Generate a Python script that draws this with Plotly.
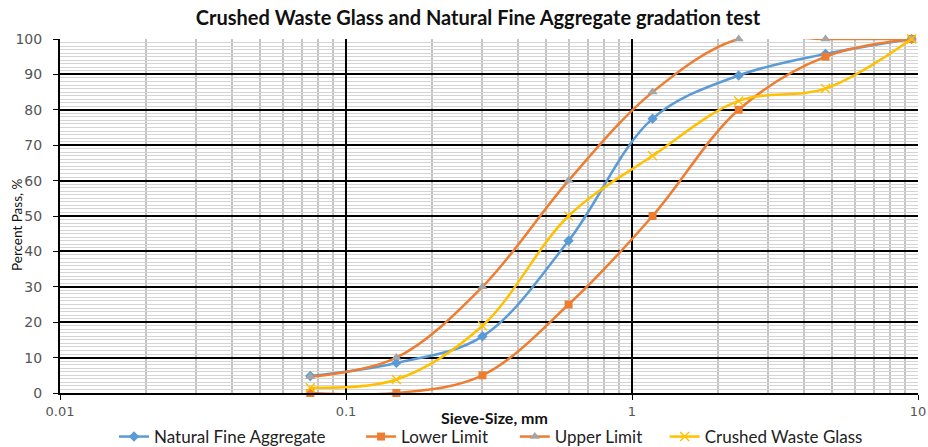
import plotly.graph_objects as go

sieve = [0.075, 0.15, 0.3, 0.6, 1.18, 2.36, 4.75, 9.5]
natural = [4.8, 8.5, 16, 43, 77.5, 89.7, 95.8, 100]
lower = [0, 0, 5, 25, 50, 80, 95, 100]
upper = [4.6, 10, 30, 60, 85, 100, 100, 100]
glass = [1.5, 3.8, 19, 50, 67, 82.5, 86, 100]

series_names = ["Natural Fine Aggregate", "Lower Limit", "Upper Limit", "Crushed Waste Glass"]

x_ticks = [0.01, 0.1, 1, 10]
x_tick_labels = ["0.01", "0.1", "1", "10"]
y_ticks = list(range(0, 101, 10))

BLUE = "#5B9BD5"
ORANGE = "#ED7D31"
GRAY = "#A5A5A5"
YELLOW = "#FFC000"

W, H = 928, 447
ML, MR, MT, MB = 60, 10, 39, 54
PW = W - ML - MR
PH = H - MT - MB
NB = "\u00a0"

fig = go.Figure()
fig.add_trace(go.Scatter(
    x=sieve, y=natural, name=series_names[0] + NB * 7, mode="lines+markers", cliponaxis=False,
    line=dict(color=BLUE, width=2.5, shape="spline"),
    marker=dict(symbol="diamond", size=8, color=BLUE)))
fig.add_trace(go.Scatter(
    x=sieve, y=lower, name=series_names[1] + NB * 5, mode="lines+markers", cliponaxis=False,
    line=dict(color=ORANGE, width=2.5, shape="spline"),
    marker=dict(symbol="square", size=8, color=ORANGE)))
fig.add_trace(go.Scatter(
    x=sieve, y=upper, name=series_names[2] + NB * 4, mode="lines+markers", cliponaxis=False,
    line=dict(color=ORANGE, width=2.5, shape="spline"),
    marker=dict(symbol="triangle-up", size=9, color=GRAY)))
fig.add_trace(go.Scatter(
    x=sieve, y=glass, name=series_names[3], mode="lines+markers", cliponaxis=False,
    line=dict(color=YELLOW, width=2.5, shape="spline"),
    marker=dict(symbol="x-thin-open", size=9, color=YELLOW, line=dict(color=YELLOW, width=1.5))))

fig.update_layout(
    width=W, height=H,
    margin=dict(l=ML, r=MR, t=MT, b=MB, autoexpand=False),
    paper_bgcolor="white", plot_bgcolor="white",
    title=dict(text="<b>Crushed Waste Glass and Natural Fine Aggregate gradation test</b>",
               x=478 / W, xanchor="center", yref="container", y=1 - 18 / H, yanchor="middle",
               font=dict(family="Lato", size=20, color="#111111")),
    showlegend=True,
    legend=dict(orientation="h", x=(114 - ML) / PW, xanchor="left", yref="container",
                y=(H - 437) / H, yanchor="middle",
                font=dict(family="Lato", size=17, color="#222222"),
                itemwidth=30, tracegroupgap=0, bgcolor="rgba(0,0,0,0)"),
    xaxis=dict(
        type="log", range=[-2, 1], tickvals=x_ticks, ticktext=x_tick_labels, automargin=False,
        showgrid=True, gridcolor="#000000", gridwidth=2,
        minor=dict(dtick="D1", showgrid=True, gridcolor="#C4C4C4", gridwidth=1.5, ticks=""),
        ticks="outside", ticklen=5, tickcolor="#000000",
        showline=True, linecolor="#000000", linewidth=2,
        tickfont=dict(family="DejaVu Sans", size=13, color="#555555"),
        zeroline=False),
    yaxis=dict(
        range=[0, 100], tickvals=y_ticks, automargin=False,
        showgrid=True, gridcolor="#000000", gridwidth=2,
        minor=dict(dtick=1, showgrid=True, gridcolor="#D4D4D4", gridwidth=1, ticks=""),
        ticks="outside", ticklen=5, tickcolor="#000000", ticklabelstandoff=8,
        showline=True, linecolor="#000000", linewidth=2,
        tickfont=dict(family="DejaVu Sans", size=14, color="#555555"),
        zeroline=False),
    annotations=[
        dict(text="<b>Sieve-Size, mm</b>", xref="paper", yref="paper",
             x=(494 - ML) / PW, y=-(417 - MT - PH) / PH, xanchor="center", yanchor="middle",
             showarrow=False, font=dict(family="Lato", size=16, color="#111111")),
        dict(text="Percent Pass, %", xref="paper", yref="paper", textangle=-90,
             x=(17 - ML) / PW, y=1 - (225 - MT) / PH, xanchor="center", yanchor="middle",
             showarrow=False, font=dict(family="Lato", size=13.5, color="#111111")),
    ],
)

fig.write_html("out.html", config={"displayModeBar": False},
               post_script="document.body.style.margin='0';document.body.style.padding='0';")
